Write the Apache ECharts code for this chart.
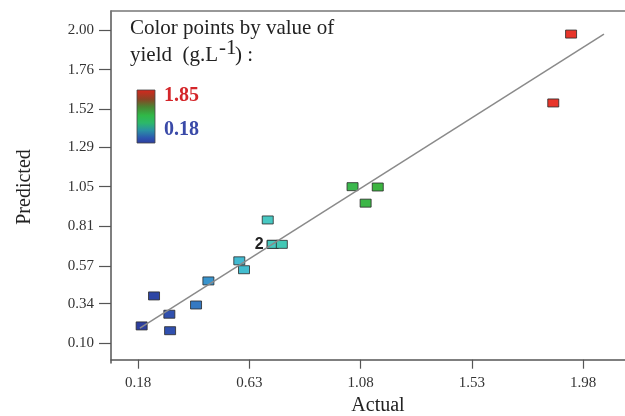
<!DOCTYPE html>
<html>
<head>
<meta charset="utf-8">
<style>
  html, body { margin: 0; padding: 0; background: #fff; }
  #main { width: 625px; height: 416px; }
</style>
<script src="https://cdn.jsdelivr.net/npm/echarts@6/dist/echarts.min.js"></script>
</head>
<body>
<div id="main"></div>
<script>
// actual vs predicted yield (g.L-1)
var actual    = [0.194, 0.244, 0.306, 0.309, 0.414, 0.464, 0.589, 0.608, 0.704, 0.724, 0.724, 0.761, 1.047, 1.100, 1.149, 1.859, 1.931];
var predicted = [0.205, 0.387, 0.276, 0.176, 0.332, 0.478, 0.600, 0.546, 0.848, 0.700, 0.700, 0.700, 1.050, 0.950, 1.048, 1.558, 1.976];
// y = x reference line end points
var lineActual    = [0.187, 2.064];
var linePredicted = [0.191, 1.975];
// tick labels
var xTicks = [0.18, 0.63, 1.08, 1.53, 1.98];
var yTicks = [0.10, 0.34, 0.57, 0.81, 1.05, 1.29, 1.52, 1.76, 2.00];
// colour scale range of yield
var yieldRange = [0.18, 1.85];

var serif = '"Liberation Serif", "Times New Roman", serif';
var chart = echarts.init(document.getElementById('main'));

/**
 * build scatter items, points sharing a spot get a count label
 */
function buildPoints() {
    var counts = {};
    actual.forEach(function (a, i) {
        var key = a + '_' + predicted[i];
        counts[key] = (counts[key] || 0) + 1;
    });
    var seen = {};
    return actual.map(function (a, i) {
        var key = a + '_' + predicted[i];
        var item = { value: [a, predicted[i]] };
        if (counts[key] > 1 && !seen[key]) {
            item.label = { show: true, formatter: String(counts[key]) };
        }
        seen[key] = true;
        return item;
    });
}

var lineData = lineActual.map(function (a, i) { return [a, linePredicted[i]]; });

var axisColor = '#555';

var option = {
    backgroundColor: '#fff',
    animation: false,
    grid: {
        left: 111, top: 11, width: 534, height: 352,
        outerBoundsMode: 'none',
        containLabel: false
    },
    xAxis: [{
        type: 'value',
        min: 0.07, max: 2.23,
        name: 'Actual',
        nameLocation: 'middle',
        nameGap: 32,
        nameTextStyle: { fontFamily: serif, fontSize: 20, color: '#222' },
        axisLine: { show: true, lineStyle: { color: axisColor, width: 1.5 } },
        axisTick: { show: true, length: 9, customValues: xTicks, lineStyle: { color: axisColor, width: 1.2 } },
        axisLabel: {
            customValues: xTicks, margin: 13,
            fontFamily: serif, fontSize: 15, color: '#333',
            formatter: function (v) { return v.toFixed(2); }
        },
        splitLine: { show: false }
    }, {
        // top frame line
        type: 'value',
        position: 'top',
        min: 0.07, max: 2.23,
        axisLine: { show: true, lineStyle: { color: '#777', width: 1.5 } },
        axisTick: { show: false },
        axisLabel: { show: false },
        splitLine: { show: false }
    }],
    yAxis: {
        type: 'value',
        min: -0.02, max: 2.116,
        name: 'Predicted',
        nameLocation: 'middle',
        nameGap: 76,
        nameTextStyle: { fontFamily: serif, fontSize: 20, color: '#222' },
        axisLine: { show: true, lineStyle: { color: axisColor, width: 1.5 } },
        axisTick: { show: true, length: 12, customValues: yTicks, lineStyle: { color: axisColor, width: 1.2 } },
        axisLabel: {
            customValues: yTicks, margin: 17,
            fontFamily: serif, fontSize: 15, color: '#333',
            formatter: function (v) { return v.toFixed(2); }
        },
        splitLine: { show: false }
    },
    visualMap: {
        show: false,
        type: 'continuous',
        seriesIndex: 0,
        dimension: 0,
        min: yieldRange[0], max: yieldRange[1],
        inRange: {
            color: ['#2c3c9c', '#3156b4', '#3caed8', '#48c8c8', '#3ec8a0', '#3cba52',
                    '#3cb23c', '#46a034', '#6a6a28', '#a84422', '#e8352a']
        }
    },
    series: [
        {
            type: 'scatter',
            symbol: 'rect',
            symbolSize: [11, 8],
            itemStyle: { borderColor: '#2a2a2a', borderWidth: 0.8, opacity: 1 },
            label: {
                position: 'left', distance: 3,
                fontFamily: '"Liberation Sans", Arial, sans-serif',
                fontSize: 16, fontWeight: 'bold', color: '#222'
            },
            data: buildPoints(),
            z: 2
        },
        {
            type: 'line',
            data: lineData,
            symbol: 'none',
            lineStyle: { color: '#8a8a8a', width: 1.5 },
            z: 3
        }
    ],
    graphic: [
        // legend title
        { type: 'text', left: 130, top: 18, style: { text: 'Color points by value of', font: '21px ' + serif, fill: '#222' } },
        { type: 'text', left: 130, top: 45, style: { text: 'yield  (g.L', font: '21px ' + serif, fill: '#222' } },
        { type: 'text', left: 219, top: 38, style: { text: '-1', font: '21px ' + serif, fill: '#222' } },
        { type: 'text', left: 235, top: 45, style: { text: ') :', font: '21px ' + serif, fill: '#222' } },
        // colour bar
        {
            type: 'rect',
            shape: { x: 137, y: 90, width: 18, height: 53 },
            style: {
                fill: new echarts.graphic.LinearGradient(0, 0, 0, 1, [
                    { offset: 0, color: '#d8261e' },
                    { offset: 0.18, color: '#8a4424' },
                    { offset: 0.32, color: '#4a8432' },
                    { offset: 0.48, color: '#30b848' },
                    { offset: 0.62, color: '#2cb86a' },
                    { offset: 0.76, color: '#2a90a4' },
                    { offset: 0.9, color: '#2c56b0' },
                    { offset: 1, color: '#2e3c9e' }
                ]),
                stroke: '#444', lineWidth: 0.8
            }
        },
        { type: 'text', left: 164, top: 86, style: { text: yieldRange[1].toFixed(2), font: 'bold 20px ' + serif, fill: '#d4262a' } },
        { type: 'text', left: 164, top: 120, style: { text: yieldRange[0].toFixed(2), font: 'bold 20px ' + serif, fill: '#3a4aa8' } }
    ]
};

chart.setOption(option);
</script>
</body>
</html>
